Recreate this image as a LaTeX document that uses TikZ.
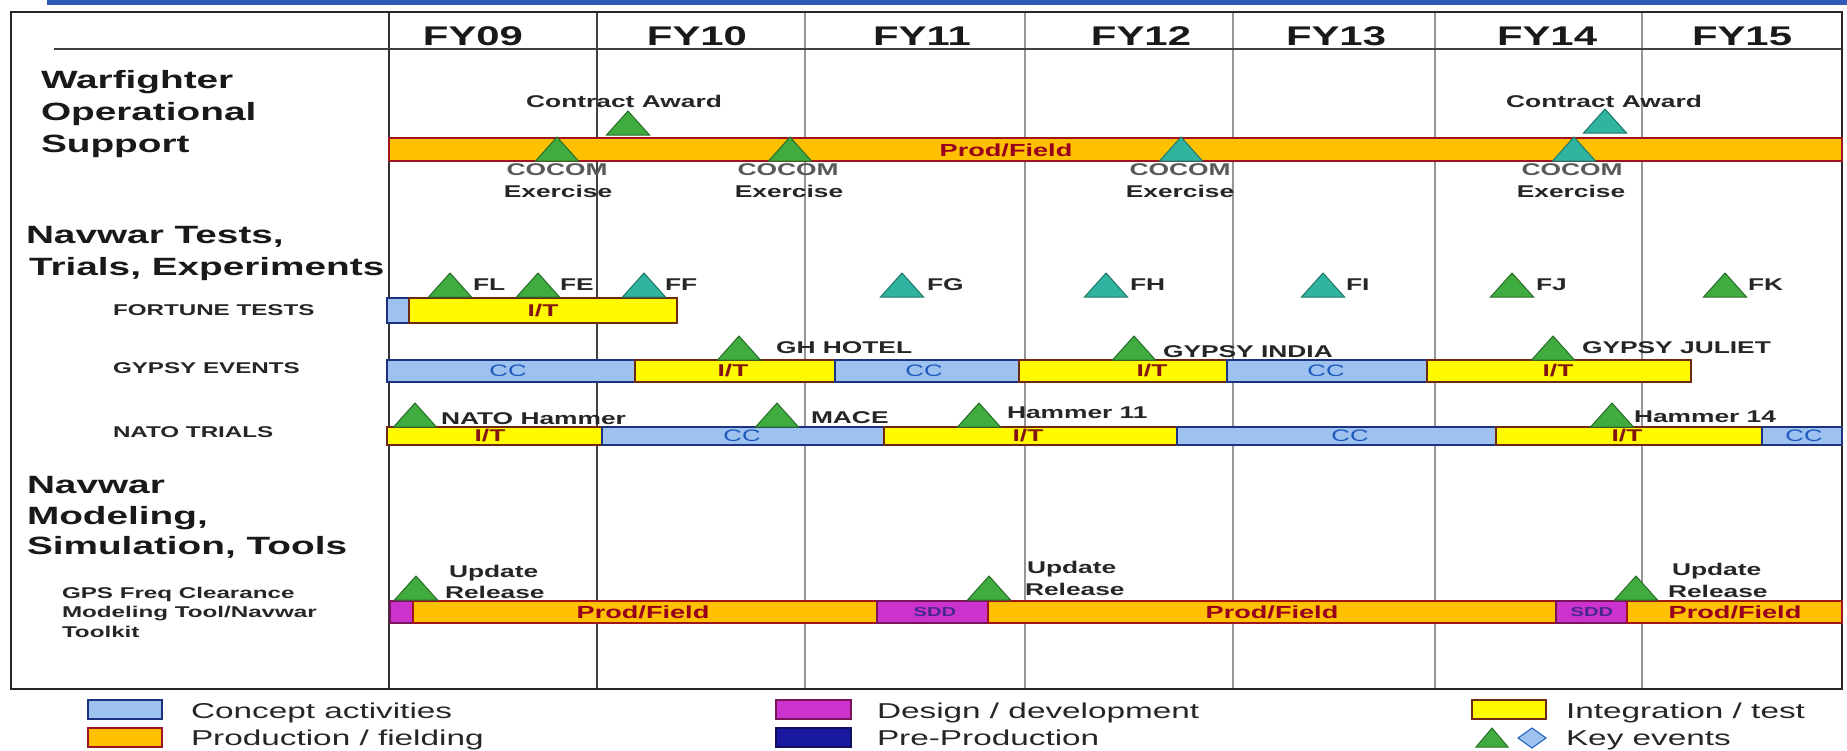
\documentclass[tikz,border=0pt]{standalone}
\usepackage{fontspec}
\newfontfamily\wf{Liberation Sans}[FakeStretch=1.55]
\definecolor{topblue}{RGB}{46,92,184}
\definecolor{ccfill}{RGB}{158,194,240}
\definecolor{ccline}{RGB}{30,50,130}
\definecolor{cctext}{RGB}{30,90,190}
\definecolor{itfill}{RGB}{255,250,0}
\definecolor{itline}{RGB}{110,40,20}
\definecolor{ittext}{RGB}{130,20,20}
\definecolor{pffill}{RGB}{255,192,0}
\definecolor{pfline}{RGB}{160,20,30}
\definecolor{pftext}{RGB}{150,0,30}
\definecolor{ddfill}{RGB}{204,50,204}
\definecolor{ddline}{RGB}{120,20,90}
\definecolor{ddtext}{RGB}{70,40,140}
\definecolor{ppfill}{RGB}{25,25,160}
\definecolor{evgfill}{RGB}{64,172,64}
\definecolor{evgline}{RGB}{40,110,40}
\definecolor{evtfill}{RGB}{48,180,160}
\definecolor{evtline}{RGB}{30,120,105}
\definecolor{gridgray}{RGB}{150,150,150}
% event marker: centre x, base y, style
\newcommand\evtri[3]{\filldraw[#3] (#1-21.5,#2) -- (#1,#2-24) -- (#1+21.5,#2) -- cycle;}
% schedule segment: x from, x to, y top, y bottom, style
\newcommand\segm[5]{\filldraw[#5] (#1,#3) rectangle (#2,#4);}
\begin{document}
\begin{tikzpicture}[x=0.5pt,y=-0.5pt,
  every node/.style={inner sep=0pt, outer sep=0pt},
  fy/.style={font=\wf\bfseries\fontsize{13.5}{16}\selectfont, anchor=base, text=black!90},
  sec/.style={font=\wf\bfseries\fontsize{12.5}{16}\selectfont, anchor=base west, text=black!90},
  sub/.style={font=\wf\bfseries\fontsize{7.8}{10}\selectfont, anchor=base west, text=black!85},
  ev/.style={font=\wf\bfseries\fontsize{8.5}{10}\selectfont, text=black!85},
  evl/.style={ev, anchor=base west},
  evc/.style={ev, anchor=base},
  coc/.style={ev, anchor=base, text=black!65},
  cc/.style={fill=ccfill, draw=ccline, line width=0.75pt},
  it/.style={fill=itfill, draw=itline, line width=0.75pt},
  pf/.style={fill=pffill, draw=pfline, line width=0.75pt},
  dd/.style={fill=ddfill, draw=ddline, line width=0.75pt},
  pp/.style={fill=ppfill, draw=ppfill!60!black, line width=0.75pt},
  cctxt/.style={font=\wf\fontsize{8.3}{9}\selectfont, text=cctext, anchor=center},
  ittxt/.style={font=\wf\bfseries\fontsize{8.5}{9}\selectfont, text=ittext, anchor=center},
  pftxt/.style={font=\wf\bfseries\fontsize{8.75}{10}\selectfont, text=pftext, anchor=center},
  ddtxt/.style={font=\wf\bfseries\fontsize{6.5}{8}\selectfont, text=ddtext, anchor=center},
  evg/.style={fill=evgfill, draw=evgline, line width=0.5pt},
  evt/.style={fill=evtfill, draw=evtline, line width=0.5pt},
  leg/.style={font=\wf\fontsize{10.75}{12}\selectfont, anchor=base west, text=black!85},
]
\useasboundingbox (0,0) rectangle (1847,750);
\fill[white] (0,0) rectangle (1847,750);

% title strip
\fill[topblue] (47,0) rectangle (1847,5);
% year grid and frame
\foreach \gx in {805,1025,1233,1435,1642}
  \draw[gridgray, line width=0.7pt] (\gx,12) -- (\gx,689);
\draw[black!75, line width=0.9pt] (597,12) -- (597,689);
\draw[black!80, line width=0.9pt] (389,12) -- (389,689);
\draw[black!75, line width=0.8pt] (54,49) -- (1842,49);
\draw[black!85, line width=1pt] (11,12) rectangle (1842,689);

% fiscal years
\node[fy] (fy09) at (473,45) {FY09};
\node[fy] (fy10) at (697,45) {FY10};
\node[fy] (fy11) at (922,45) {FY11};
\node[fy] (fy12) at (1141,45) {FY12};
\node[fy] (fy13) at (1336,45) {FY13};
\node[fy] (fy14) at (1547,45) {FY14};
\node[fy] (fy15) at (1742,45) {FY15};

% row headings
\node[sec] (wfa) at (41,88) {Warfighter};
\node[sec] (wfb) at (41,120) {Operational};
\node[sec] (wfc) at (41,152) {Support};
\node[sec] (nta) at (26,243) {Navwar Tests,};
\node[sec] (ntb) at (29,275) {Trials, Experiments};
\node[sec] (nma) at (27,493) {Navwar};
\node[sec] (nmb) at (27,524) {Modeling,};
\node[sec] (nmc) at (27,554) {Simulation, Tools};
\node[sub] (fort) at (113,315) {FORTUNE TESTS};
\node[sub] (gyps) at (113,373) {GYPSY EVENTS};
\node[sub] (nato) at (113,437) {NATO TRIALS};
\node[sub] (gpsa) at (62,598) {GPS Freq Clearance};
\node[sub] (gpsb) at (62,617) {Modeling Tool/Navwar};
\node[sub] (gpsc) at (62,637) {Toolkit};

% Warfighter operational support
\segm{389}{1842}{138}{161}{pf}
\node[pftxt] (wpf) at (1006,150) {Prod/Field};

% Fortune tests
\segm{387}{409}{298}{323}{cc}
\segm{409}{677}{298}{323}{it}
\node[ittxt] (fit) at (543,311) {I/T};

% Gypsy events
\segm{387}{635}{360}{382}{cc}
\segm{635}{835}{360}{382}{it}
\segm{835}{1019}{360}{382}{cc}
\segm{1019}{1227}{360}{382}{it}
\segm{1227}{1427}{360}{382}{cc}
\segm{1427}{1691}{360}{382}{it}
\node[cctxt] (gca) at (508,371) {CC};
\node[ittxt] (gia) at (733,371) {I/T};
\node[cctxt] (gcb) at (924,371) {CC};
\node[ittxt] (gib) at (1152,371) {I/T};
\node[cctxt] (gcc) at (1326,371) {CC};
\node[ittxt] (gic) at (1558,371) {I/T};

% NATO trials
\segm{387}{602}{427}{445}{it}
\segm{602}{884}{427}{445}{cc}
\segm{884}{1177}{427}{445}{it}
\segm{1177}{1496}{427}{445}{cc}
\segm{1496}{1762}{427}{445}{it}
\segm{1762}{1842}{427}{445}{cc}
\node[ittxt] (nia) at (490,436) {I/T};
\node[cctxt] (nca) at (742,436) {CC};
\node[ittxt] (nib) at (1028,436) {I/T};
\node[cctxt] (ncb) at (1350,436) {CC};
\node[ittxt] (nic) at (1627,436) {I/T};
\node[cctxt] (ncc) at (1804,436) {CC};

% GPS modeling tool
\segm{390}{413}{601}{623}{dd}
\segm{413}{877}{601}{623}{pf}
\segm{877}{988}{601}{623}{dd}
\segm{988}{1556}{601}{623}{pf}
\segm{1556}{1627}{601}{623}{dd}
\segm{1627}{1842}{601}{623}{pf}
\node[pftxt] (tpa) at (643,612) {Prod/Field};
\node[ddtxt] (tda) at (935,612) {SDD};
\node[pftxt] (tpb) at (1272,612) {Prod/Field};
\node[ddtxt] (tdb) at (1592,612) {SDD};
\node[pftxt] (tpc) at (1735,612) {Prod/Field};

% key events
\evtri{628}{135}{evg}
\evtri{1605}{133}{evt}
\evtri{557}{161}{evg}
\evtri{790}{161}{evg}
\evtri{1181}{161}{evt}
\evtri{1574}{161}{evt}
\evtri{450}{297}{evg}
\evtri{538}{297}{evg}
\evtri{644}{297}{evt}
\evtri{902}{297}{evt}
\evtri{1106}{297}{evt}
\evtri{1323}{297}{evt}
\evtri{1512}{297}{evg}
\evtri{1725}{297}{evg}
\evtri{739}{360}{evg}
\evtri{1134}{360}{evg}
\evtri{1553}{360}{evg}
\evtri{415}{427}{evg}
\evtri{777}{427}{evg}
\evtri{979}{427}{evg}
\evtri{1612}{427}{evg}
\evtri{416}{600}{evg}
\evtri{989}{600}{evg}
\evtri{1636}{600}{evg}

% event labels
\node[evc] (caa) at (624,107) {Contract Award};
\node[evc] (cab) at (1604,107) {Contract Award};
\node[coc] (coa) at (557,175) {COCOM};
\node[evc] (exa) at (558,197) {Exercise};
\node[coc] (cob) at (788,175) {COCOM};
\node[evc] (exb) at (789,197) {Exercise};
\node[coc] (coc) at (1180,175) {COCOM};
\node[evc] (exc) at (1180,197) {Exercise};
\node[coc] (cod) at (1572,175) {COCOM};
\node[evc] (exd) at (1571,197) {Exercise};
\node[evl] (fl) at (473,290) {FL};
\node[evl] (fe) at (560,290) {FE};
\node[evl] (ff) at (665,290) {FF};
\node[evl] (fg) at (927,290) {FG};
\node[evl] (fh) at (1130,290) {FH};
\node[evl] (fi) at (1346,290) {FI};
\node[evl] (fj) at (1536,290) {FJ};
\node[evl] (fk) at (1748,290) {FK};
\node[evl] (gh) at (776,353) {GH HOTEL};
\node[evl] (gind) at (1163,357) {GYPSY INDIA};
\node[evl] (gjul) at (1582,353) {GYPSY JULIET};
\node[evl] (nham) at (441,424) {NATO Hammer};
\node[evl] (mace) at (811,423) {MACE};
\node[evl] (h11) at (1007,418) {Hammer 11};
\node[evl] (h14) at (1634,422) {Hammer 14};
\node[evl] (upa) at (449,577) {Update};
\node[evl] (rla) at (445,598) {Release};
\node[evl] (upb) at (1027,573) {Update};
\node[evl] (rlb) at (1025,595) {Release};
\node[evl] (upc) at (1672,575) {Update};
\node[evl] (rlc) at (1668,597) {Release};

% legend
\segm{88}{162}{700}{719}{cc}
\segm{88}{162}{728}{747}{pf}
\segm{776}{851}{700}{719}{dd}
\segm{776}{851}{728}{747}{pp}
\segm{1472}{1546}{700}{719}{it}
\filldraw[evg] (1476,747) -- (1492,728) -- (1508,747) -- cycle;
\filldraw[fill=ccfill, draw=cctext, line width=0.5pt] (1532,728) -- (1546,738) -- (1532,748) -- (1518,738) -- cycle;
\node[leg] (lga) at (191,718) {Concept activities};
\node[leg] (lgb) at (191,745) {Production / fielding};
\node[leg] (lgc) at (877,718) {Design / development};
\node[leg] (lgd) at (877,745) {Pre-Production};
\node[leg] (lge) at (1566,718) {Integration / test};
\node[leg] (lgf) at (1566,745) {Key events};
\end{tikzpicture}
\end{document}
